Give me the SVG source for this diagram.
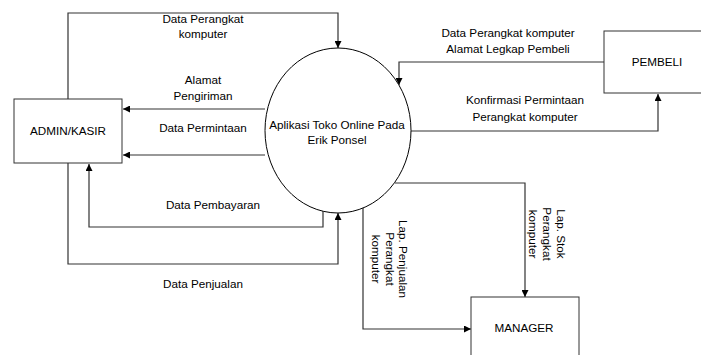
<svg xmlns="http://www.w3.org/2000/svg" width="701" height="355" viewBox="0 0 701 355">
<defs>
<marker id="arr" viewBox="0 0 10 10" refX="10" refY="5" markerWidth="7" markerHeight="7" markerUnits="userSpaceOnUse" orient="auto">
<path d="M0,0 L10,5 L0,10 Z" fill="#000"/>
</marker>
<style>
text{font-family:"Liberation Sans",Arial,sans-serif;font-size:11.7px;fill:#000;text-anchor:middle}
.box{fill:#fff;stroke:#333;stroke-width:1}
.flow{fill:none;stroke:#333;stroke-width:1.2;marker-end:url(#arr)}
.proc{fill:#fff;stroke:#000;stroke-width:1}
</style>
</defs>
<rect width="701" height="355" fill="#fff"/>
<g id="connectors">
<path class="flow" d="M68,99 V13 H338 V48"/>
<path class="flow" d="M265,109 H123"/>
<path class="flow" d="M265,155 H123"/>
<path class="flow" d="M323,211 V227 H89 V164"/>
<path class="flow" d="M68,163 V264 H338 V213"/>
<path class="flow" d="M604,62 H399 V85"/>
<path class="flow" d="M411,131 H658 V94"/>
<path class="flow" d="M395,183 H525 V297"/>
<path class="flow" d="M363,208 V329 H471"/>
<text x="203" y="23">Data Perangkat</text>
<text x="203" y="38">komputer</text>
<text x="203" y="84">Alamat</text>
<text x="203" y="100">Pengiriman</text>
<text x="203" y="132">Data Permintaan</text>
<text x="213" y="209">Data Pembayaran</text>
<text x="203" y="288">Data Penjualan</text>
<text x="508" y="37">Data Perangkat komputer</text>
<text x="508" y="53">Alamat Legkap Pembeli</text>
<text x="525" y="104">Konfirmasi Permintaan</text>
<text x="525" y="121">Perangkat komputer</text>
<g transform="translate(547,234) rotate(90)">
<text x="0" y="-10">Lap. Stok</text>
<text x="0" y="4">Perangkat</text>
<text x="0" y="18">komputer</text>
</g>
<g transform="translate(390,259) rotate(90)">
<text x="0" y="-9">Lap. Penjualan</text>
<text x="0" y="4">Perangkat</text>
<text x="0" y="18">komputer</text>
</g>
</g>
<g id="admin">
<rect class="box" x="14" y="99" width="108" height="64"/>
<text x="68" y="135">ADMIN/KASIR</text>
</g>
<g id="aplikasi">
<ellipse class="proc" cx="338" cy="130.5" rx="73" ry="82.5"/>
<text x="337" y="129">Aplikasi Toko Online Pada</text>
<text x="337" y="144">Erik Ponsel</text>
</g>
<g id="pembeli">
<rect class="box" x="604" y="31" width="100" height="62"/>
<text x="657" y="66">PEMBELI</text>
</g>
<g id="manager">
<rect class="box" x="471" y="297" width="108" height="64"/>
<text x="524" y="332">MANAGER</text>
</g>
</svg>
